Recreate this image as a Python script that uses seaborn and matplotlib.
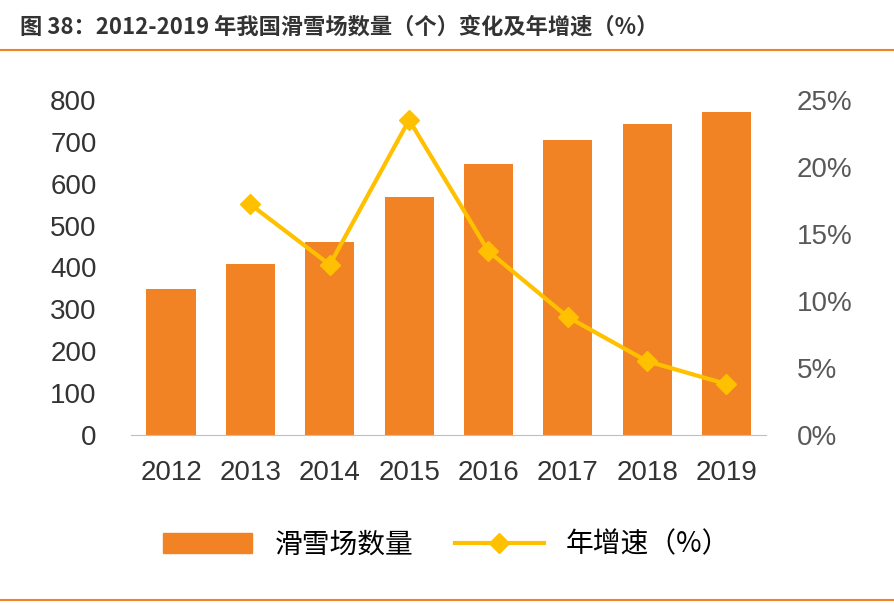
import matplotlib
matplotlib.use("Agg")
import matplotlib.pyplot as plt
import seaborn as sns
import pandas as pd
import numpy as np

years = ["2012", "2013", "2014", "2015", "2016", "2017", "2018", "2019"]
counts = [348, 408, 460, 568, 646, 703, 742, 770]
growth_years = ["2013", "2014", "2015", "2016", "2017", "2018", "2019"]
growth = [17.2, 12.7, 23.5, 13.7, 8.8, 5.5, 3.8]

plt.rcParams["font.family"] = ["Liberation Sans", "Noto Sans CJK SC", "DejaVu Sans"]
fig = plt.figure(figsize=(8.94, 6.05), dpi=100)
ax = fig.add_axes([0.147, 0.281, 0.71, 0.554])
df = pd.DataFrame({"year": years, "count": counts})
sns.barplot(data=df, x="year", y="count", color="#F28325", width=0.62, ax=ax, saturation=1)
ax.set_ylim(0, 800)
ax.set_yticks(range(0, 801, 100))
ax.set_xlim(-0.5, 7.5)
ax.set_xlabel(""); ax.set_ylabel("")
for s in ["top", "right", "left"]:
    ax.spines[s].set_visible(False)
ax.spines["bottom"].set_color("#BFBFBF")
ax.tick_params(axis="both", length=0, labelsize=20, colors="#333333", pad=18)
ax.tick_params(axis="y", pad=25)

ax2 = ax.twinx()
xpos = [years.index(y) for y in growth_years]
ax2.plot(xpos, growth, color="#FFC000", lw=3, marker="D", ms=10)
ax2.set_ylim(0, 25)
ax2.set_yticks(range(0, 26, 5))
ax2.set_yticklabels([f"{v}%" for v in range(0, 26, 5)])
for s in ax2.spines.values():
    s.set_visible(False)
ax2.tick_params(axis="y", length=0, labelsize=20, colors="#595959", pad=22)

from matplotlib.patches import Patch
from matplotlib.lines import Line2D
handles = [Patch(color="#F28325"), Line2D([0], [0], color="#FFC000", lw=3, marker="D", ms=10)]
fig.legend(handles, ["滑雪场数量", "年增速（%）"], loc="center", bbox_to_anchor=(0.5, 0.1),
           ncol=2, frameon=False, fontsize=20, handlelength=3.2, columnspacing=1.5,
           prop={"family": ["Noto Sans CJK SC"], "size": 20})

fig.text(0.022, 0.955, "图 38：2012-2019 年我国滑雪场数量（个）变化及年增速（%）",
         fontsize=16, fontweight="bold", color="#333333", va="center",
         family=["Noto Sans CJK SC"])
fig.add_artist(Line2D([0.0, 1.0], [0.918, 0.918], color="#F28325", lw=1.5))
fig.add_artist(Line2D([0.0, 1.0], [0.008, 0.008], color="#F28325", lw=1.5))
fig.savefig("out.png", dpi=100)
